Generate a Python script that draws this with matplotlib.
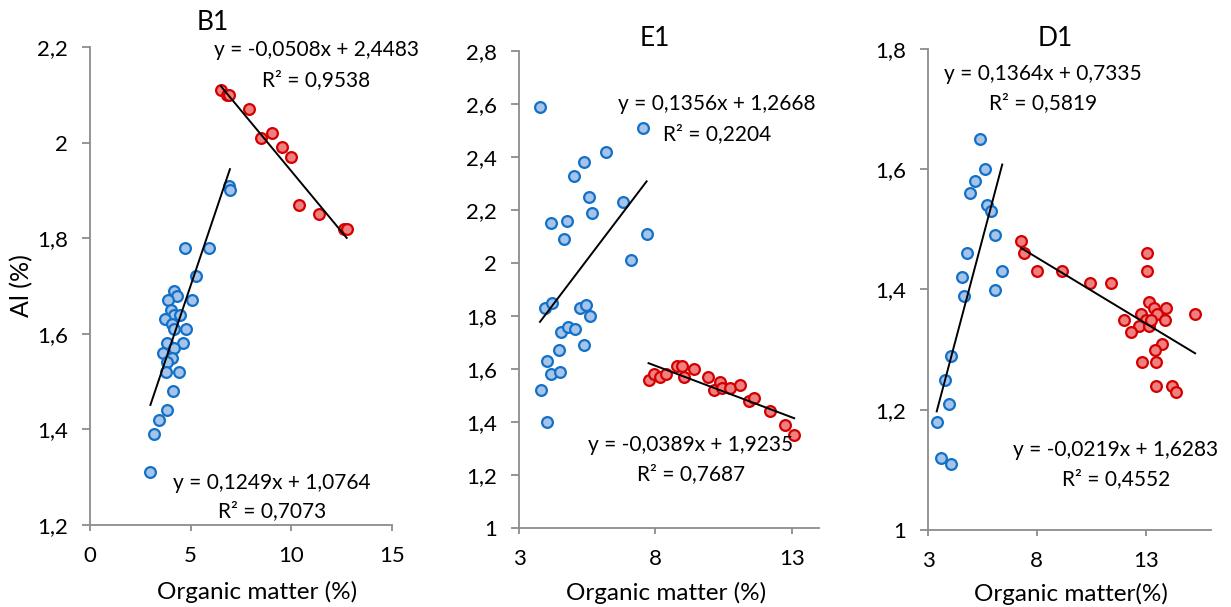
import numpy as np
import matplotlib.pyplot as plt
from matplotlib.ticker import FuncFormatter, MultipleLocator

plt.rcParams['font.family'] = ['Lato', 'DejaVu Sans']

W, H = 1231, 607

# B1 profile: Al (%) vs organic matter (%)
b1_blue_x = [6.9, 6.95, 4.7, 5.9, 5.27, 4.15, 4.3, 3.88, 5.07, 4.03, 4.17, 3.72, 4.47,
             4.08, 4.17, 4.76, 3.83, 4.6, 3.62, 4.17, 4.08, 3.83, 3.78, 4.43, 4.1,
             3.83, 3.42, 3.18, 3.0]
b1_blue_y = [1.91, 1.90, 1.78, 1.78, 1.72, 1.69, 1.68, 1.67, 1.67, 1.65, 1.64, 1.63, 1.64,
             1.62, 1.61, 1.61, 1.58, 1.58, 1.56, 1.57, 1.55, 1.54, 1.52, 1.52, 1.48,
             1.44, 1.42, 1.39, 1.31]
b1_red_x = [6.5, 6.8, 6.9, 7.9, 8.5, 9.05, 9.55, 9.97, 10.4, 11.35, 12.6, 12.75]
b1_red_y = [2.11, 2.10, 2.10, 2.07, 2.01, 2.02, 1.99, 1.97, 1.87, 1.85, 1.82, 1.82]

# E1 profile
e1_blue_x = [3.77, 7.53, 6.18, 5.38, 5.01, 5.55, 6.83, 5.66, 4.17, 4.76, 4.64, 7.68, 7.12,
             3.95, 4.2, 5.23, 5.44, 5.59, 4.53, 4.8, 5.05, 4.47, 5.39, 4.01, 4.17, 4.5,
             3.79, 4.01]
e1_blue_y = [2.59, 2.51, 2.42, 2.38, 2.33, 2.25, 2.23, 2.19, 2.15, 2.16, 2.09, 2.11, 2.01,
             1.83, 1.85, 1.83, 1.84, 1.80, 1.74, 1.76, 1.75, 1.67, 1.69, 1.63, 1.58, 1.59,
             1.52, 1.40]
e1_red_x = [7.75, 7.95, 8.18, 8.38, 8.81, 8.98, 9.05, 9.43, 9.94, 10.14, 10.37, 10.44,
            10.75, 11.12, 11.45, 11.61, 12.2, 12.76, 13.09]
e1_red_y = [1.56, 1.58, 1.57, 1.58, 1.61, 1.61, 1.57, 1.60, 1.57, 1.52, 1.55, 1.53,
            1.53, 1.54, 1.48, 1.49, 1.44, 1.39, 1.35]

# D1 profile
d1_blue_x = [5.40, 5.62, 5.17, 4.94, 5.70, 5.91, 6.09, 4.79, 6.41, 4.58, 4.67, 6.09,
             4.07, 3.8, 3.98, 3.4, 3.6, 4.04]
d1_blue_y = [1.65, 1.60, 1.58, 1.56, 1.54, 1.53, 1.49, 1.46, 1.43, 1.42, 1.39, 1.40,
             1.29, 1.25, 1.21, 1.18, 1.12, 1.11]
d1_red_x = [7.27, 7.42, 8.02, 9.15, 10.45, 11.42, 13.04, 13.08, 13.17, 13.4, 13.92, 12.78,
            13.5, 13.02, 12.02, 13.87, 12.68, 13.13, 12.31, 15.27, 13.75, 13.43, 12.82,
            13.48, 13.46, 14.19, 14.37, 13.24]
d1_red_y = [1.48, 1.46, 1.43, 1.43, 1.41, 1.41, 1.46, 1.43, 1.38, 1.37, 1.37, 1.36,
            1.36, 1.35, 1.35, 1.35, 1.34, 1.34, 1.33, 1.36, 1.31, 1.30, 1.28,
            1.28, 1.24, 1.24, 1.23, 1.35]

# trendline coefficients (slope, intercept, R2)
b1_blue_fit = (0.1249, 1.0764, 0.7073)
b1_red_fit = (-0.0508, 2.4483, 0.9538)
e1_blue_fit = (0.1356, 1.2668, 0.2204)
e1_red_fit = (-0.0389, 1.9235, 0.7687)
d1_blue_fit = (0.1364, 0.7335, 0.5819)
d1_red_fit = (-0.0219, 1.6283, 0.4552)

BLUE_EDGE, BLUE_FILL = '#1170c8', '#a6c4ea'
RED_EDGE, RED_FILL = '#d40000', '#f08080'
AXIS_GRAY = '#8c8c8c'
FS = 15


def comma(v, pos):
    return f'{v:g}'.replace('.', ',')


def fmt(v, n=4):
    return f'{v:.{n}f}'.replace('.', ',')


def eq_text(fit):
    m, b, r2 = fit
    return f'y = {fmt(m)}x + {fmt(b)}', f'R² = {fmt(r2)}'


def fx(x):
    return x / W


def fy(y):
    return 1 - y / H


def panel(box, xlim, ylim, ystep, xticks):
    l, t, r, b = box
    ax = fig.add_axes([l / W, 1 - b / H, (r - l) / W, (b - t) / H])
    ax.set_xlim(*xlim)
    ax.set_ylim(*ylim)
    ax.set_xticks(xticks)
    ax.yaxis.set_major_locator(MultipleLocator(ystep))
    ax.xaxis.set_major_formatter(FuncFormatter(comma))
    ax.yaxis.set_major_formatter(FuncFormatter(comma))
    for s in ['top', 'right']:
        ax.spines[s].set_visible(False)
    for s in ['left', 'bottom']:
        ax.spines[s].set_color(AXIS_GRAY)
        ax.spines[s].set_linewidth(1.3)
    ax.tick_params(colors=AXIS_GRAY, width=1.3, labelsize=16, labelcolor='black')
    ax.tick_params(axis='y', length=6, pad=10)
    ax.tick_params(axis='x', length=4, pad=11)
    return ax


def series(ax, x, y, fit, edge, fill):
    ax.scatter(x, y, s=60, facecolor=fill, edgecolor=edge, linewidth=1.6,
               zorder=3, clip_on=False)
    m, b, _ = fit
    xs = np.array([min(x), max(x)])
    ax.plot(xs, m * xs + b, color='black', lw=1.4, zorder=4)


def label(fit, x1, y1, x2, y2):
    l1, l2 = eq_text(fit)
    fig.text(fx(x1), fy(y1), l1, ha='center', va='center', fontsize=FS)
    fig.text(fx(x2), fy(y2), l2, ha='center', va='center', fontsize=FS)


fig = plt.figure(figsize=(W / 100, H / 100), dpi=100)

ax1 = panel((90, 47, 392, 525), (0, 15), (1.2, 2.2), 0.2, [0, 5, 10, 15])
series(ax1, b1_blue_x, b1_blue_y, b1_blue_fit, BLUE_EDGE, BLUE_FILL)
series(ax1, b1_red_x, b1_red_y, b1_red_fit, RED_EDGE, RED_FILL)

ax2 = panel((519, 51, 819, 528), (3, 14), (1.0, 2.8), 0.2, [3, 8, 13])
series(ax2, e1_blue_x, e1_blue_y, e1_blue_fit, BLUE_EDGE, BLUE_FILL)
series(ax2, e1_red_x, e1_red_y, e1_red_fit, RED_EDGE, RED_FILL)

ax3 = panel((928, 49, 1211, 530), (3, 16), (1.0, 1.8), 0.2, [3, 8, 13])
series(ax3, d1_blue_x, d1_blue_y, d1_blue_fit, BLUE_EDGE, BLUE_FILL)
series(ax3, d1_red_x, d1_red_y, d1_red_fit, RED_EDGE, RED_FILL)

# panel titles
fig.text(fx(213), fy(22), 'B1', ha='center', va='center', fontsize=19)
fig.text(fx(655), fy(39), 'E1', ha='center', va='center', fontsize=19)
fig.text(fx(1055), fy(39), 'D1', ha='center', va='center', fontsize=19)

# trendline equations
label(b1_red_fit, 316, 50, 316, 80)
label(b1_blue_fit, 272, 483, 272, 511)
label(e1_blue_fit, 717, 104, 717, 134)
label(e1_red_fit, 691, 445, 691, 474)
label(d1_blue_fit, 1043, 74, 1043, 103)
label(d1_red_fit, 1116, 450, 1116, 479)

# axis titles
fig.text(fx(22), fy(286), 'Al (%)', rotation=90, ha='center', va='center', fontsize=18)
fig.text(fx(257), fy(592), 'Organic matter (%)', ha='center', va='center', fontsize=17.5)
fig.text(fx(666), fy(593), 'Organic matter (%)', ha='center', va='center', fontsize=17.5)
fig.text(fx(1071), fy(594), 'Organic matter(%)', ha='center', va='center', fontsize=17.5)

fig.savefig('out.png', dpi=100)
